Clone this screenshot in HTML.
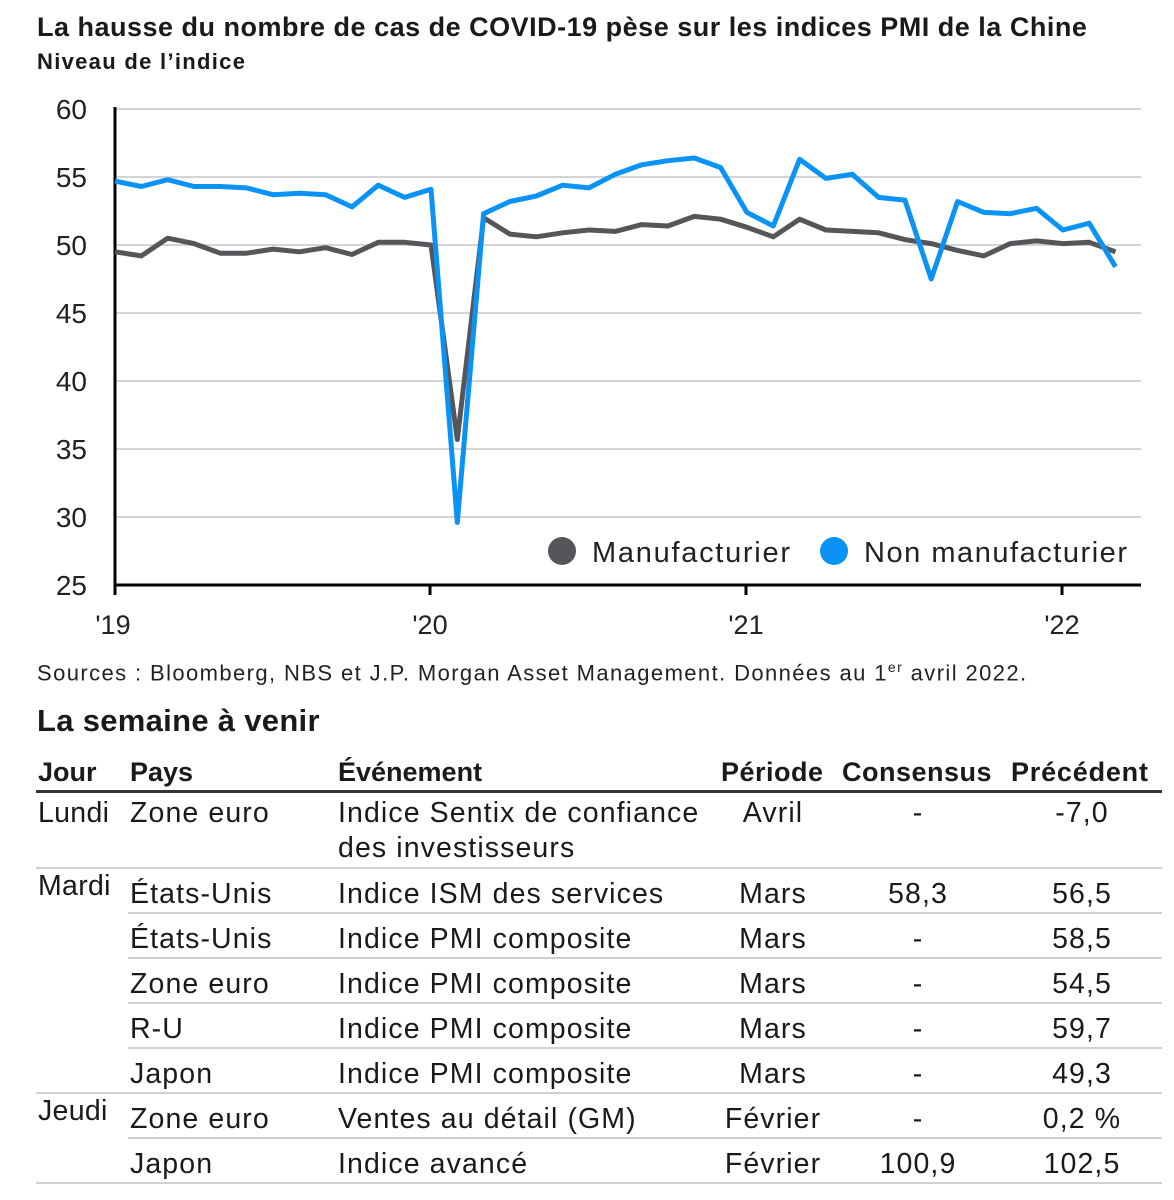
<!DOCTYPE html>
<html><head><meta charset="utf-8"><style>
body{margin:0;background:#fff;width:1174px;height:1200px;position:relative;overflow:hidden;font-family:"Liberation Sans",sans-serif;color:#1a1a1a}
.t{position:absolute;white-space:nowrap}
.h{font-size:27px;font-weight:bold;}
.c{font-size:28.5px;letter-spacing:1.1px}
.line{position:absolute;height:2px;background:#d0d0d0}
</style></head><body>
<div class="t" style="left:37px;top:12px;font-size:27px;font-weight:bold;letter-spacing:0.5px">La hausse du nombre de cas de COVID-19 pèse sur les indices PMI de la Chine</div>
<div class="t" style="left:37px;top:49px;font-size:22px;font-weight:bold;letter-spacing:1.3px">Niveau de l’indice</div>
<svg width="1174" height="650" style="position:absolute;left:0;top:0">
<g stroke="#d4d4d4" stroke-width="2" id="grid"></g>
<g font-size="28" fill="#222" text-anchor="end" id="yl"></g>
<line x1="115" y1="107" x2="115" y2="586" stroke="#000" stroke-width="3"/>
<line x1="114" y1="585" x2="1141" y2="585" stroke="#000" stroke-width="3"/>
<g stroke="#000" stroke-width="3"><line x1="115" y1="585" x2="115" y2="595"/><line x1="430" y1="585" x2="430" y2="595"/><line x1="746" y1="585" x2="746" y2="595"/><line x1="1062" y1="585" x2="1062" y2="595"/></g>
<g font-size="27" fill="#222" text-anchor="middle"><text x="113" y="634">'19</text><text x="430" y="634">'20</text><text x="746" y="634">'21</text><text x="1062" y="634">'22</text></g>
<polyline id="m" fill="none" stroke="#54565a" stroke-width="5" stroke-linejoin="round"/>
<polyline id="n" fill="none" stroke="#0a93f5" stroke-width="5" stroke-linejoin="round"/>
<circle cx="562" cy="551" r="14" fill="#54565a"/><text x="592" y="562" font-size="29" fill="#222" textLength="198">Manufacturier</text>
<circle cx="834" cy="551" r="14" fill="#0a93f5"/><text x="864" y="562" font-size="29" fill="#222" textLength="263">Non manufacturier</text>
</svg>
<script>
var g=document.getElementById('grid'),yl=document.getElementById('yl'),s='',l='';
for(var v=25;v<=60;v+=5){var y=585-(v-25)*13.6;if(v>25)s+='<line x1="115" y1="'+y+'" x2="1141" y2="'+y+'"/>';l+='<text x="87" y="'+(y+10)+'">'+v+'</text>';}
g.innerHTML=s;yl.innerHTML=l;
var M=[49.5,49.2,50.5,50.1,49.4,49.4,49.7,49.5,49.8,49.3,50.2,50.2,50.0,35.7,52.0,50.8,50.6,50.9,51.1,51.0,51.5,51.4,52.1,51.9,51.3,50.6,51.9,51.1,51.0,50.9,50.4,50.1,49.6,49.2,50.1,50.3,50.1,50.2,49.5];
var N=[54.7,54.3,54.8,54.3,54.3,54.2,53.7,53.8,53.7,52.8,54.4,53.5,54.1,29.6,52.3,53.2,53.6,54.4,54.2,55.2,55.9,56.2,56.4,55.7,52.4,51.4,56.3,54.9,55.2,53.5,53.3,47.5,53.2,52.4,52.3,52.7,51.1,51.6,48.4];
function p(a){return a.map(function(v,i){return (115+i*26.33).toFixed(1)+','+(585-(v-25)*13.6).toFixed(1)}).join(' ')}
document.getElementById('m').setAttribute('points',p(M));
document.getElementById('n').setAttribute('points',p(N));
</script>
<div class="t" style="left:37px;top:659px;font-size:22px;letter-spacing:1.4px;color:#222">Sources : Bloomberg, NBS et J.P. Morgan Asset Management. Données au 1<sup style="font-size:14px">er</sup> avril 2022.</div>
<div class="t" style="left:37px;top:703px;font-size:31px;font-weight:bold;letter-spacing:0.3px">La semaine à venir</div>
<div class="t h" style="left:38px;top:757px">Jour</div>
<div class="t h" style="left:130px;top:757px">Pays</div>
<div class="t h" style="left:338px;top:757px">Événement</div>
<div class="t h" style="left:721px;top:757px;letter-spacing:0.5px">Période</div>
<div class="t h" style="left:842px;top:757px;letter-spacing:0.5px">Consensus</div>
<div class="t h" style="left:1011px;top:757px;letter-spacing:0.8px">Précédent</div>
<div style="position:absolute;left:36px;top:790px;width:1126px;height:3px;background:#333"></div>
<div id="rows"></div>
<script>
var R=[[797,'Lundi','Zone euro','Indice Sentix de confiance','Avril','-','-7,0'],
[878,'Mardi','États-Unis','Indice ISM des services','Mars','58,3','56,5'],
[923,'','États-Unis','Indice PMI composite','Mars','-','58,5'],
[968,'','Zone euro','Indice PMI composite','Mars','-','54,5'],
[1013,'','R-U','Indice PMI composite','Mars','-','59,7'],
[1058,'','Japon','Indice PMI composite','Mars','-','49,3'],
[1103,'Jeudi','Zone euro','Ventes au détail (GM)','Février','-','0,2 %'],
[1148,'','Japon','Indice avancé','Février','100,9','102,5']];
var h='';
R.forEach(function(r,i){var t=r[0];var jt=(r[1]=='Mardi'||r[1]=='Jeudi')?t-8:t;
h+='<div class="t c" style="left:38px;top:'+jt+'px;letter-spacing:0.3px">'+r[1]+'</div>';
h+='<div class="t c" style="left:130px;top:'+t+'px">'+r[2]+'</div>';
h+='<div class="t c" style="left:338px;top:'+t+'px">'+r[3]+'</div>';
h+='<div class="t c" style="left:693px;width:160px;text-align:center;top:'+t+'px">'+r[4]+'</div>';
h+='<div class="t c" style="left:838px;width:160px;text-align:center;top:'+t+'px">'+r[5]+'</div>';
h+='<div class="t c" style="left:1002px;width:160px;text-align:center;top:'+t+'px">'+r[6]+'</div>';});
h+='<div class="t c" style="left:338px;top:832px">des investisseurs</div>';
[[867,36],[912,128],[957,128],[1002,128],[1047,128],[1092,36],[1137,128],[1182,36]].forEach(function(a){h+='<div class="line" style="left:'+a[1]+'px;top:'+a[0]+'px;width:'+(1162-a[1])+'px"></div>'});
document.getElementById('rows').innerHTML=h;
</script>
</body></html>
